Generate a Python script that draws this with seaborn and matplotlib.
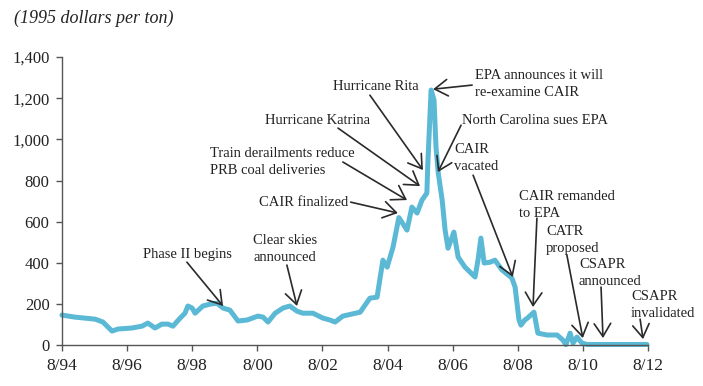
import matplotlib
matplotlib.use('Agg')
import matplotlib.pyplot as plt
import numpy as np
import pandas as pd
import seaborn as sns

# 价格数据（年份用小数表示，8/94 = 1994 + 7/12）
years = [1994.58, 1994.77, 1994.98, 1995.60, 1995.84, 1996.12, 1996.30, 1996.73,
         1997.04, 1997.22, 1997.44, 1997.65, 1997.84, 1997.99, 1998.21, 1998.36,
         1998.45, 1998.58, 1998.67, 1998.91, 1999.13, 1999.34, 1999.53, 1999.74,
         1999.99, 2000.27, 2000.60, 2000.76, 2000.91, 2001.13, 2001.37, 2001.58,
         2001.80, 2001.98, 2002.29, 2002.60, 2002.81, 2002.97, 2003.21, 2003.74,
         2004.04, 2004.26, 2004.44, 2004.57, 2004.75, 2004.93, 2005.18, 2005.33,
         2005.49, 2005.64, 2005.79, 2005.82, 2005.92, 2006.01, 2006.07, 2006.14,
         2006.26, 2006.35, 2006.44, 2006.62, 2006.75, 2006.96, 2007.27, 2007.36,
         2007.45, 2007.55, 2007.73, 2007.88, 2008.10, 2008.40, 2008.50, 2008.62,
         2008.68, 2008.80, 2008.87, 2009.08, 2009.20, 2009.48, 2009.79, 2009.97,
         2010.06, 2010.19, 2010.28, 2010.40, 2010.55, 2010.71, 2012.55]
prices = [146, 141, 136, 126, 112, 68, 78, 83,
          92, 107, 83, 102, 102, 92, 131, 155,
          190, 180, 155, 190, 199, 204, 180, 170,
          117, 122, 141, 136, 112, 155, 180, 190,
          165, 155, 155, 131, 122, 112, 141, 160,
          228, 233, 413, 379, 476, 620, 559, 671,
          642, 705, 739, 885, 1240, 1191, 963, 836,
          705, 559, 471, 549, 428, 379, 331, 413,
          520, 399, 403, 413, 365, 326, 282, 122,
          97, 122, 130, 160, 58, 49, 49, 24,
          2, 58, 10, 39, 10, 3, 3]

tick_years = [1994.583 + 2 * i for i in range(10)]
tick_labels = ['8/94', '8/96', '8/98', '8/00', '8/02', '8/04', '8/06', '8/08', '8/10', '8/12']

# 事件标注：文字，箭头终点(年份, 价格)
event_labels = ['Phase II begins', 'Clear skies\nannounced', 'CAIR finalized',
                'Train derailments reduce\nPRB coal deliveries', 'Hurricane Katrina',
                'Hurricane Rita', 'EPA announces it will\nre-examine CAIR',
                'North Carolina sues EPA', 'CAIR\nvacated', 'CAIR remanded\nto EPA',
                'CATR\nproposed', 'CSAPR\nannounced', 'CSAPR\ninvalidated']
event_years = [1999.53, 2001.80, 2004.90, 2005.18, 2005.58, 2005.67, 2005.98,
               2006.13, 2008.43, 2009.05, 2010.58, 2011.20, 2012.43]
event_prices = [190, 190, 642, 705, 773, 851, 1244, 841, 331, 185, 34, 34, 29]

# 文字位置(左边, 中心) 与箭头起点
text_pos = [(1997.07, 438), (2000.45, 467), (2000.63, 695), (1999.13, 890),
            (2000.82, 1094), (2002.91, 1259), (2007.27, 1269), (2006.87, 1094),
            (2006.62, 909), (2008.62, 681), (2009.45, 510), (2010.46, 350),
            (2012.06, 194)]
arrow_start = [(1998.42, 403), (2001.49, 389), (2003.45, 695), (2003.21, 890),
               (2003.06, 1055), (2004.04, 1215), (2007.18, 1264), (2006.84, 1069),
               (2007.21, 826), (2009.17, 617), (2010.09, 438), (2011.14, 282),
               (2012.34, 126)]

sns.set_style('ticks')
plt.rcParams['font.family'] = ['Liberation Serif', 'DejaVu Serif']

fig = plt.figure(figsize=(7.03, 3.86), dpi=100)
ax = fig.add_axes([0.0882, 0.106, 0.8336, 0.746])

df = pd.DataFrame({'year': years, 'price': prices})
sns.lineplot(data=df, x='year', y='price', ax=ax, color='#5bb9d6', linewidth=3.6,
             solid_capstyle='round', solid_joinstyle='round')

for label, ex, ey, (tx, ty), (sx, sy) in zip(event_labels, event_years, event_prices,
                                             text_pos, arrow_start):
    ax.text(tx, ty, label, ha='left', va='center', fontsize=10.5, color='#222222',
            linespacing=1.4)
    ax.annotate('', xy=(ex, ey), xytext=(sx, sy),
                arrowprops=dict(arrowstyle='->,head_length=0.55,head_width=0.35',
                                color='#2a2a2a', lw=1.2, mutation_scale=17,
                                shrinkA=0, shrinkB=0))

ax.set_xlim(tick_years[0], tick_years[-1])
ax.set_ylim(0, 1400)
ax.set_xticks(tick_years)
ax.set_xticklabels(tick_labels)
ax.set_yticks(range(0, 1401, 200))
ax.set_yticklabels([f'{v:,}' for v in range(0, 1401, 200)])
ax.set_xlabel('')
ax.set_ylabel('')
ax.tick_params(labelsize=12, colors='#222222', length=4, width=1, pad=5)
ax.tick_params(axis='x', labelsize=12.5)
ax.tick_params(axis='both', color='#555555')
for s in ['left', 'bottom']:
    ax.spines[s].set_color('#555555')
    ax.spines[s].set_linewidth(1)
sns.despine(ax=ax)
for t in ax.lines:
    t.set_clip_on(False)

fig.text(0.02, 0.953, '(1995 dollars per ton)', fontsize=13, style='italic',
         color='#222222', ha='left', va='center')

fig.savefig('out.png', dpi=100)
